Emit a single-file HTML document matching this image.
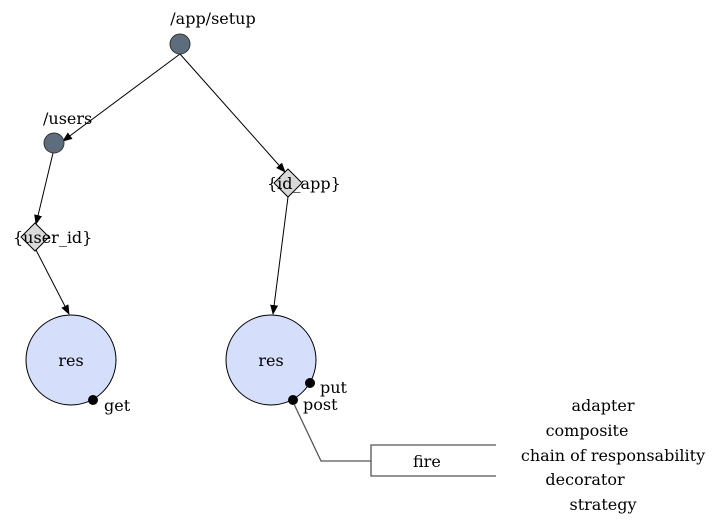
<!DOCTYPE html>
<html><head><style>
html,body{margin:0;padding:0;background:#fff;}
svg{display:block;font-family:"DejaVu Serif","Liberation Serif",serif;font-size:16px;}
</style></head><body>
<svg width="717" height="525" viewBox="0 0 717 525" xmlns="http://www.w3.org/2000/svg">
<defs><marker id="a" markerWidth="10" markerHeight="8" refX="9" refY="4" orient="auto" markerUnits="userSpaceOnUse"><path d="M0,0 L10,4 L0,8 Z" fill="#000"/></marker></defs>
<g stroke="#000" stroke-width="1" fill="none">
<line x1="180" y1="54" x2="63" y2="141" marker-end="url(#a)"/>
<line x1="180" y1="54" x2="285" y2="172" marker-end="url(#a)"/>
<line x1="53" y1="153" x2="36" y2="224" marker-end="url(#a)"/>
<line x1="36" y1="250" x2="69" y2="314" marker-end="url(#a)"/>
<line x1="288" y1="197" x2="273" y2="314" marker-end="url(#a)"/>
</g>
<circle cx="180" cy="44" r="10" fill="#5d6d7e" stroke="#333"/>
<circle cx="54" cy="143" r="10" fill="#5d6d7e" stroke="#333"/>
<polygon points="35,223 49,237 35,251 21,237" fill="#d9d9d9" stroke="#000"/>
<polygon points="288,169 302,183 288,197 274,183" fill="#d9d9d9" stroke="#000"/>
<circle cx="71" cy="360" r="45" fill="#d5defa" stroke="#000"/>
<circle cx="271" cy="360" r="45" fill="#d5defa" stroke="#000"/>
<circle cx="93" cy="400" r="5" fill="#000"/>
<circle cx="310" cy="383" r="5" fill="#000"/>
<circle cx="293" cy="400" r="5" fill="#000"/>
<g stroke="#555" stroke-width="1.3" fill="none">
<polyline points="294,404 321,461 371,461"/>
<polyline points="496,445 371,445 371,476 496,476"/>
</g>
<g fill="#000">
<text x="213" y="24" text-anchor="middle">/app/setup</text>
<text x="43" y="124">/users</text>
<text x="13" y="243">{user_id}</text>
<text x="267" y="189">{id_app}</text>
<text x="71" y="366" text-anchor="middle">res</text>
<text x="271" y="366" text-anchor="middle">res</text>
<text x="104" y="411">get</text>
<text x="320" y="393">put</text>
<text x="303" y="410">post</text>
<text x="413" y="467">fire</text>
<text x="603" y="411" text-anchor="middle">adapter</text>
<text x="587" y="436" text-anchor="middle">composite</text>
<text x="613" y="461" text-anchor="middle">chain of responsability</text>
<text x="585" y="485" text-anchor="middle">decorator</text>
<text x="603" y="510" text-anchor="middle">strategy</text>
</g>
</svg>
</body></html>
